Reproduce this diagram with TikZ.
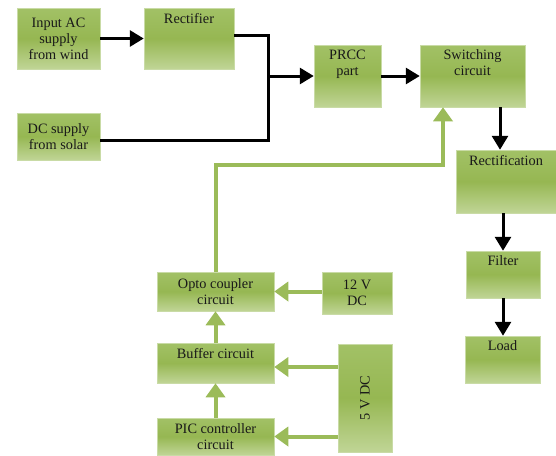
\documentclass[tikz,border=0pt]{standalone}
\usepackage{fontspec}
\setmainfont{Liberation Serif}
\usepackage{graphicx}
\usetikzlibrary{arrows.meta,shadows}
\definecolor{boxtop}{HTML}{A2C166}
\definecolor{boxmid}{HTML}{96B752}
\definecolor{boxbot}{HTML}{C0D596}
\definecolor{boxedge}{HTML}{C9DBA6}
\definecolor{feedgreen}{HTML}{9BBB59}
\begin{document}
\begin{tikzpicture}[x=1pt,y=-1pt,%
        myblock/.style={shape=rectangle,draw=boxedge,line width=0.5pt,
            top color=boxtop,bottom color=boxbot,middle color=boxmid,
            drop shadow={shadow xshift=0.8pt,shadow yshift=-1.4pt,opacity=0.7,fill=black!70},
            align=center,inner sep=0pt,text=black!90,font=\fontsize{14.3}{16}\selectfont},
        toptext/.style={label={[anchor=north,align=center,inner sep=0pt,yshift=-5pt,
            text=black!90,font=\fontsize{14.3}{16}\selectfont]north:#1}},
        blackline/.style={line width=3pt},
        blackarrow/.style={line width=3pt,-{Triangle[length=14pt,width=16pt]}},
        greenarrow/.style={draw=feedgreen,line width=4pt,-{Triangle[length=14pt,width=19pt]}}
    ]
    \useasboundingbox (0,0) rectangle (556,455);
    \node [myblock,minimum width=83pt,minimum height=61pt] (ac) at (58.5,38.5) {Input AC\\supply\\from wind};
    \node [myblock,minimum width=90pt,minimum height=61pt,toptext=Rectifier] (rect) at (189,38.5) {};
    \node [myblock,minimum width=83pt,minimum height=47pt] (dc) at (58.5,136.5) {DC supply\\from solar};
    \node [myblock,minimum width=67pt,minimum height=62pt,toptext={PRCC\\part}] (prcc) at (347.5,76) {};
    \node [myblock,minimum width=105pt,minimum height=62pt,toptext={Switching\\circuit}] (sw) at (472.5,76) {};
    \node [myblock,minimum width=100pt,minimum height=63pt,toptext=Rectification] (rfn) at (506,181.5) {};
    \node [myblock,minimum width=74pt,minimum height=47pt,toptext=Filter] (filt) at (503,274.5) {};
    \node [myblock,minimum width=75pt,minimum height=47pt,toptext=Load] (load) at (502.5,359.5) {};
    \node [myblock,minimum width=117pt,minimum height=39pt] (opto) at (215.5,291.5) {Opto coupler\\circuit};
    \node [myblock,minimum width=70pt,minimum height=42pt] (v12) at (357,293) {12 V\\DC};
    \node [myblock,minimum width=117pt,minimum height=40pt,toptext={Buffer circuit}] (buf) at (215.5,363) {};
    \node [myblock,minimum width=54pt,minimum height=108pt] (v5) at (365,398) {\rotatebox{90}{5 V DC}};
    \node [myblock,minimum width=117pt,minimum height=37pt] (pic) at (215.5,436.5) {PIC controller\\circuit};
    \coordinate (jn) at (268,76);
    \coordinate (fb) at (443,165);
    \draw [blackarrow] (ac.east) -- (rect.west);
    \draw [blackline] ([yshift=3.5pt]rect.east) -| (jn);
    \draw [blackline] ([yshift=-3.5pt]dc.east) -| (jn);
    \draw [blackarrow] (jn) -- (prcc.west);
    \draw [blackarrow] (prcc.east) -- (sw.west);
    \draw [blackarrow] ([xshift=27.5pt]sw.south) -- ([xshift=27.5pt]sw.south |- rfn.north);
    \draw [blackarrow] (filt.north |- rfn.south) -- (filt.north);
    \draw [blackarrow] (filt.south) -- (filt.south |- load.north);
    \draw [greenarrow] (opto.north) |- (fb) -- (fb |- sw.south);
    \draw [greenarrow] (v12.west |- opto.east) -- (opto.east);
    \draw [greenarrow] (buf.north) -- (opto.south);
    \draw [greenarrow] ([yshift=-4pt]v5.west |- buf.east) -- ([yshift=-4pt]buf.east);
    \draw [greenarrow] (v5.west |- pic.east) -- (pic.east);
    \draw [greenarrow] (pic.north) -- (buf.south);
\end{tikzpicture}
\end{document}
